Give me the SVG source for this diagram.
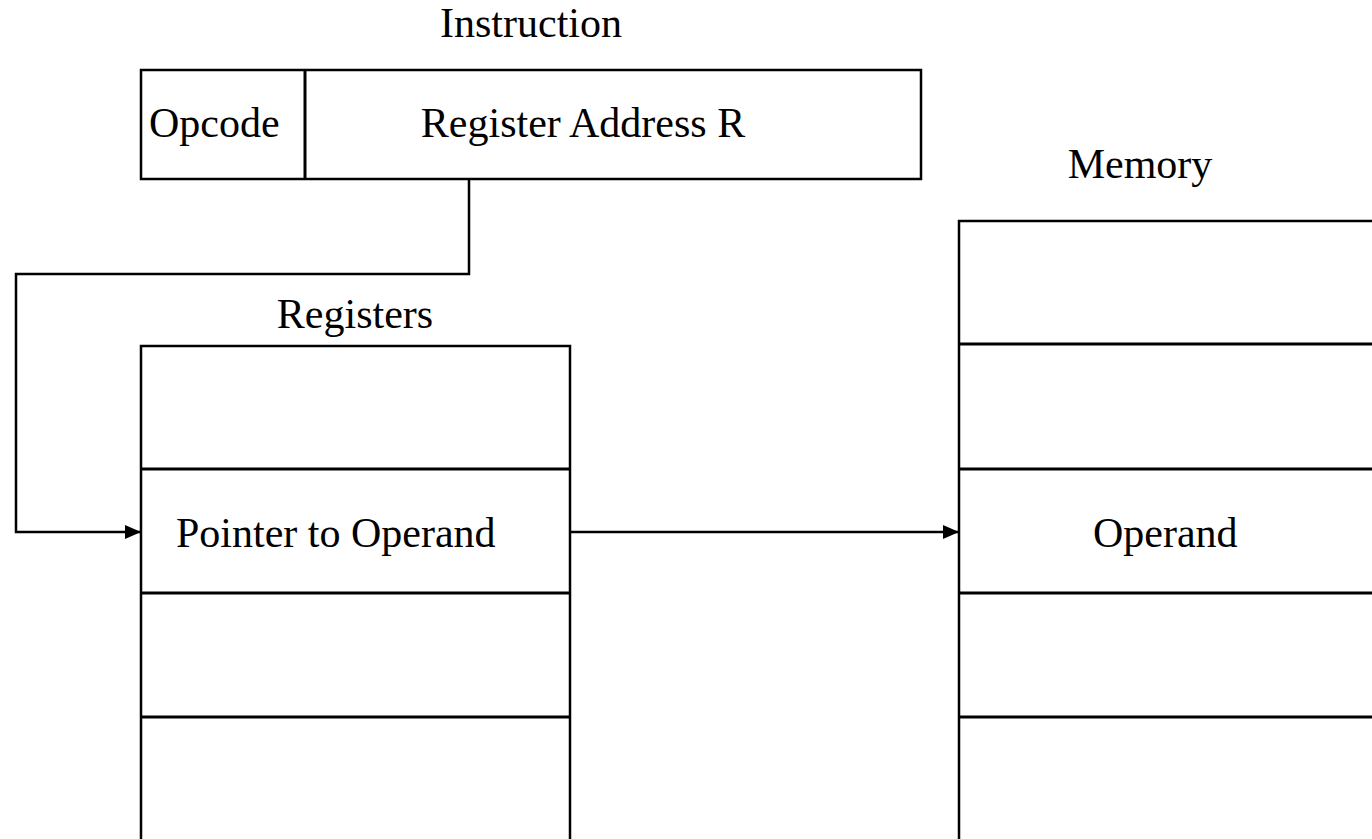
<svg xmlns="http://www.w3.org/2000/svg" width="1372" height="839" viewBox="0 0 1372 839">
  <style>
    .box { fill: #ffffff; stroke: #000000; stroke-width: 2.5; }
    .div { stroke: #000000; stroke-width: 3; fill: none; }
    .wire { stroke: #000000; stroke-width: 2.5; fill: none; }
    .lbl { font-family: "Liberation Serif", "Times New Roman", serif; font-size: 42px; fill: #000000; }
  </style>
  <defs>
    <marker id="arrow" viewBox="0 0 16 14" refX="16" refY="7" markerWidth="16" markerHeight="14" markerUnits="userSpaceOnUse" orient="auto">
      <path d="M0,0 L16,7 L0,14 Z" fill="#000000"/>
    </marker>
  </defs>
  <rect width="1372" height="839" fill="#ffffff"/>

  <!-- instruction word: opcode field + register address field -->
  <g id="instruction">
    <text class="lbl" x="531" y="37" text-anchor="middle">Instruction</text>
    <rect class="box" x="141" y="70" width="780" height="109"/>
    <line class="div" x1="305" y1="70" x2="305" y2="179" stroke-width="2"/>
    <text class="lbl" x="149" y="137">Opcode</text>
    <text class="lbl" x="583" y="137" text-anchor="middle">Register Address R</text>
  </g>

  <!-- register file -->
  <g id="registers">
    <text class="lbl" x="355" y="328" text-anchor="middle">Registers</text>
    <rect class="box" x="141" y="346" width="429" height="520"/>
    <line class="div" x1="141" y1="469" x2="570" y2="469"/>
    <line class="div" x1="141" y1="593" x2="570" y2="593"/>
    <line class="div" x1="141" y1="717" x2="570" y2="717"/>
    <text class="lbl" x="176" y="547">Pointer to Operand</text>
  </g>

  <!-- main memory -->
  <g id="memory">
    <text class="lbl" x="1140" y="178" text-anchor="middle">Memory</text>
    <rect class="box" x="959" y="221" width="440" height="650"/>
    <line class="div" x1="959" y1="344" x2="1399" y2="344"/>
    <line class="div" x1="959" y1="469" x2="1399" y2="469"/>
    <line class="div" x1="959" y1="593" x2="1399" y2="593"/>
    <line class="div" x1="959" y1="717" x2="1399" y2="717"/>
    <text class="lbl" x="1093" y="547">Operand</text>
  </g>

  <!-- connectors -->
  <g id="connectors">
    <path class="wire" d="M469,179 V274 H16 V532 H141" marker-end="url(#arrow)"/>
    <path class="wire" d="M570,532 H959" marker-end="url(#arrow)"/>
  </g>
</svg>
